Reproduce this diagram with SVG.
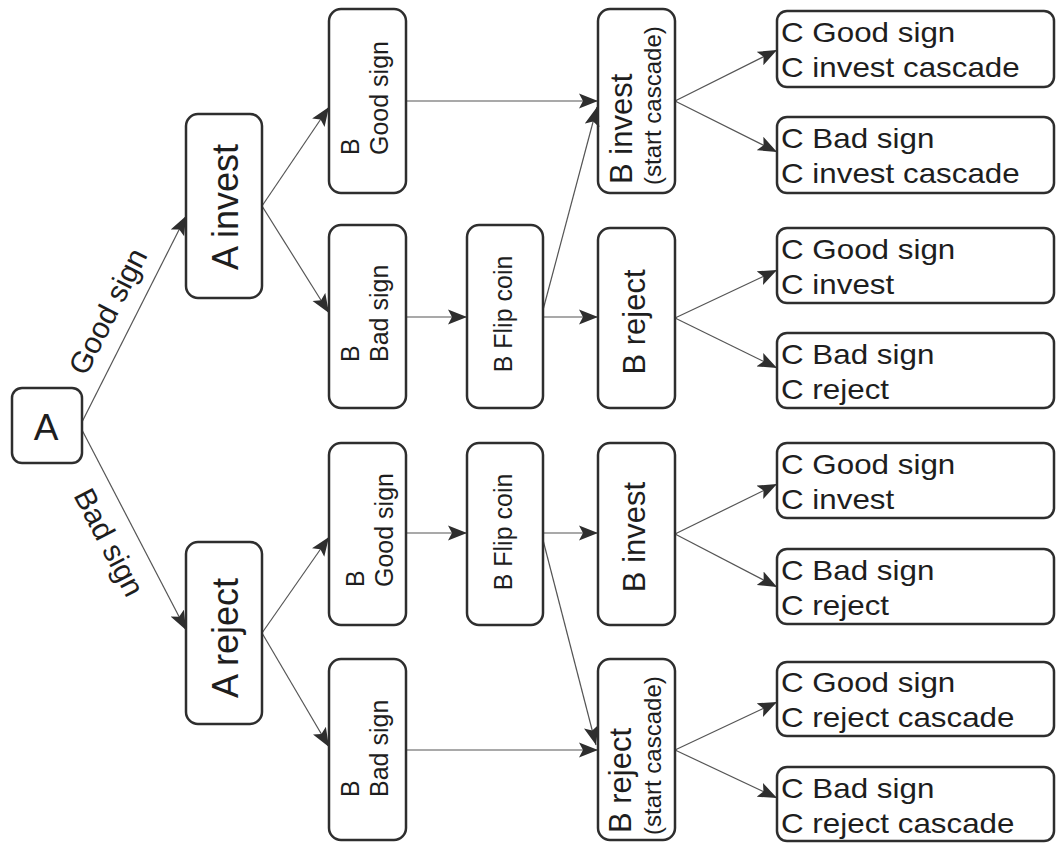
<svg xmlns="http://www.w3.org/2000/svg" width="1056" height="843" viewBox="0 0 1056 843">
<defs>
<style>
.box{fill:none;stroke:#2e2e2e;stroke-width:2.5}
.edge{fill:none;stroke:#555;stroke-width:1.2;marker-end:url(#arr)}
text{font-family:"Liberation Sans",Arial,sans-serif;fill:#1e1e1e}
.big{font-size:36px}
.mid{font-size:31px}
.sm{font-size:25px}
.lab{font-size:30px}
.c{font-size:28px}
</style>
<marker id="arr" markerUnits="userSpaceOnUse" markerWidth="20" markerHeight="16" viewBox="0 0 20 16" refX="19" refY="8" orient="auto">
<path d="M0,0.5 L19,8 L0,15.5 L4,8 z" fill="#2e2e2e"/>
</marker>
</defs>
<rect width="1056" height="843" fill="#fff"/>
<g id="connectors">
<path class="edge" d="M82,422 L186,216"/>
<path class="edge" d="M82,430 L186,630"/>
<path class="edge" d="M262,206 L329,107"/>
<path class="edge" d="M262,206 L329,313"/>
<path class="edge" d="M262,633 L329,537"/>
<path class="edge" d="M262,633 L329,747"/>
<path class="edge" d="M406,101 L598,101"/>
<path class="edge" d="M406,317 L467,317"/>
<path class="edge" d="M543,317 L598,317"/>
<path class="edge" d="M543,310 L597,107"/>
<path class="edge" d="M675,101 L777,50"/>
<path class="edge" d="M675,101 L777,152"/>
<path class="edge" d="M675,318 L777,270"/>
<path class="edge" d="M675,318 L777,368"/>
<path class="edge" d="M406,533 L467,533"/>
<path class="edge" d="M543,533 L598,533"/>
<path class="edge" d="M543,540 L596,745"/>
<path class="edge" d="M406,750 L598,750"/>
<path class="edge" d="M675,534 L777,484"/>
<path class="edge" d="M675,534 L777,587"/>
<path class="edge" d="M675,750 L777,702"/>
<path class="edge" d="M675,750 L777,798"/>
<text class="lab" text-anchor="middle" transform="translate(117,316) rotate(-63)">Good sign</text>
<text class="lab" text-anchor="middle" transform="translate(100,547) rotate(62.5)">Bad sign</text>
</g>
<g id="A">
<rect class="box" x="12" y="388" width="70" height="75" rx="10"/>
<text x="46" y="440" font-size="37" text-anchor="middle">A</text>
</g>
<g id="A_invest">
<rect class="box" x="186" y="114" width="76" height="184" rx="12"/>
<text class="big" text-anchor="middle" transform="translate(238,207) rotate(-90)">A invest</text>
</g>
<g id="A_reject">
<rect class="box" x="186" y="542" width="76" height="182" rx="12"/>
<text class="big" text-anchor="middle" transform="translate(238,638) rotate(-90)">A reject</text>
</g>
<g id="B_good_1">
<rect class="box" x="329" y="9" width="77" height="184" rx="12"/>
<text class="sm" transform="translate(359,155) rotate(-90)">B</text>
<text class="sm" transform="translate(388,155) rotate(-90)">Good sign</text>
</g>
<g id="B_bad_1">
<rect class="box" x="329" y="225" width="77" height="183" rx="12"/>
<text class="sm" transform="translate(359,362) rotate(-90)">B</text>
<text class="sm" transform="translate(388,362) rotate(-90)">Bad sign</text>
</g>
<g id="B_flip_1">
<rect class="box" x="467" y="225" width="76" height="183" rx="12"/>
<text class="sm" text-anchor="middle" transform="translate(512,314) rotate(-90)">B Flip coin</text>
</g>
<g id="B_invest_cascade">
<rect class="box" x="598" y="9" width="77" height="184" rx="12"/>
<text class="mid" transform="translate(632,184) rotate(-90)">B invest</text>
<text font-size="24" transform="translate(661,185) rotate(-90)">(start cascade)</text>
</g>
<g id="B_reject_1">
<rect class="box" x="598" y="228" width="77" height="180" rx="12"/>
<text class="mid" text-anchor="middle" transform="translate(645,322) rotate(-90)">B reject</text>
</g>
<g id="B_good_2">
<rect class="box" x="329" y="443" width="77" height="182" rx="12"/>
<text class="sm" transform="translate(364,587) rotate(-90)">B</text>
<text class="sm" transform="translate(393,587) rotate(-90)">Good sign</text>
</g>
<g id="B_flip_2">
<rect class="box" x="467" y="443" width="76" height="182" rx="12"/>
<text class="sm" text-anchor="middle" transform="translate(512,532) rotate(-90)">B Flip coin</text>
</g>
<g id="B_invest_2">
<rect class="box" x="598" y="443" width="77" height="182" rx="12"/>
<text class="mid" text-anchor="middle" transform="translate(645,537) rotate(-90)">B invest</text>
</g>
<g id="B_bad_2">
<rect class="box" x="329" y="659" width="77" height="181" rx="12"/>
<text class="sm" transform="translate(359,797) rotate(-90)">B</text>
<text class="sm" transform="translate(388,797) rotate(-90)">Bad sign</text>
</g>
<g id="B_reject_cascade">
<rect class="box" x="598" y="659" width="77" height="181" rx="12"/>
<text class="mid" transform="translate(631,833) rotate(-90)">B reject</text>
<text font-size="24" transform="translate(661,835) rotate(-90)">(start cascade)</text>
</g>
<g id="C1">
<rect class="box" x="777" y="11" width="277" height="76" rx="10"/>
<text class="c" transform="translate(781,42) scale(1.12,1)">C Good sign</text>
<text class="c" transform="translate(781,77) scale(1.12,1)">C invest cascade</text>
</g>
<g id="C2">
<rect class="box" x="777" y="117" width="277" height="76" rx="10"/>
<text class="c" transform="translate(781,148) scale(1.12,1)">C Bad sign</text>
<text class="c" transform="translate(781,183) scale(1.12,1)">C invest cascade</text>
</g>
<g id="C3">
<rect class="box" x="777" y="228" width="277" height="75" rx="10"/>
<text class="c" transform="translate(781,259) scale(1.12,1)">C Good sign</text>
<text class="c" transform="translate(781,294) scale(1.12,1)">C invest</text>
</g>
<g id="C4">
<rect class="box" x="777" y="333" width="277" height="75" rx="10"/>
<text class="c" transform="translate(781,364) scale(1.12,1)">C Bad sign</text>
<text class="c" transform="translate(781,399) scale(1.12,1)">C reject</text>
</g>
<g id="C5">
<rect class="box" x="777" y="443" width="277" height="75" rx="10"/>
<text class="c" transform="translate(781,474) scale(1.12,1)">C Good sign</text>
<text class="c" transform="translate(781,509) scale(1.12,1)">C invest</text>
</g>
<g id="C6">
<rect class="box" x="777" y="549" width="277" height="75" rx="10"/>
<text class="c" transform="translate(781,580) scale(1.12,1)">C Bad sign</text>
<text class="c" transform="translate(781,615) scale(1.12,1)">C reject</text>
</g>
<g id="C7">
<rect class="box" x="777" y="662" width="277" height="74" rx="10"/>
<text class="c" transform="translate(781,692) scale(1.12,1)">C Good sign</text>
<text class="c" transform="translate(781,727) scale(1.12,1)">C reject cascade</text>
</g>
<g id="C8">
<rect class="box" x="777" y="767" width="277" height="74" rx="10"/>
<text class="c" transform="translate(781,798) scale(1.12,1)">C Bad sign</text>
<text class="c" transform="translate(781,833) scale(1.12,1)">C reject cascade</text>
</g>
</svg>
